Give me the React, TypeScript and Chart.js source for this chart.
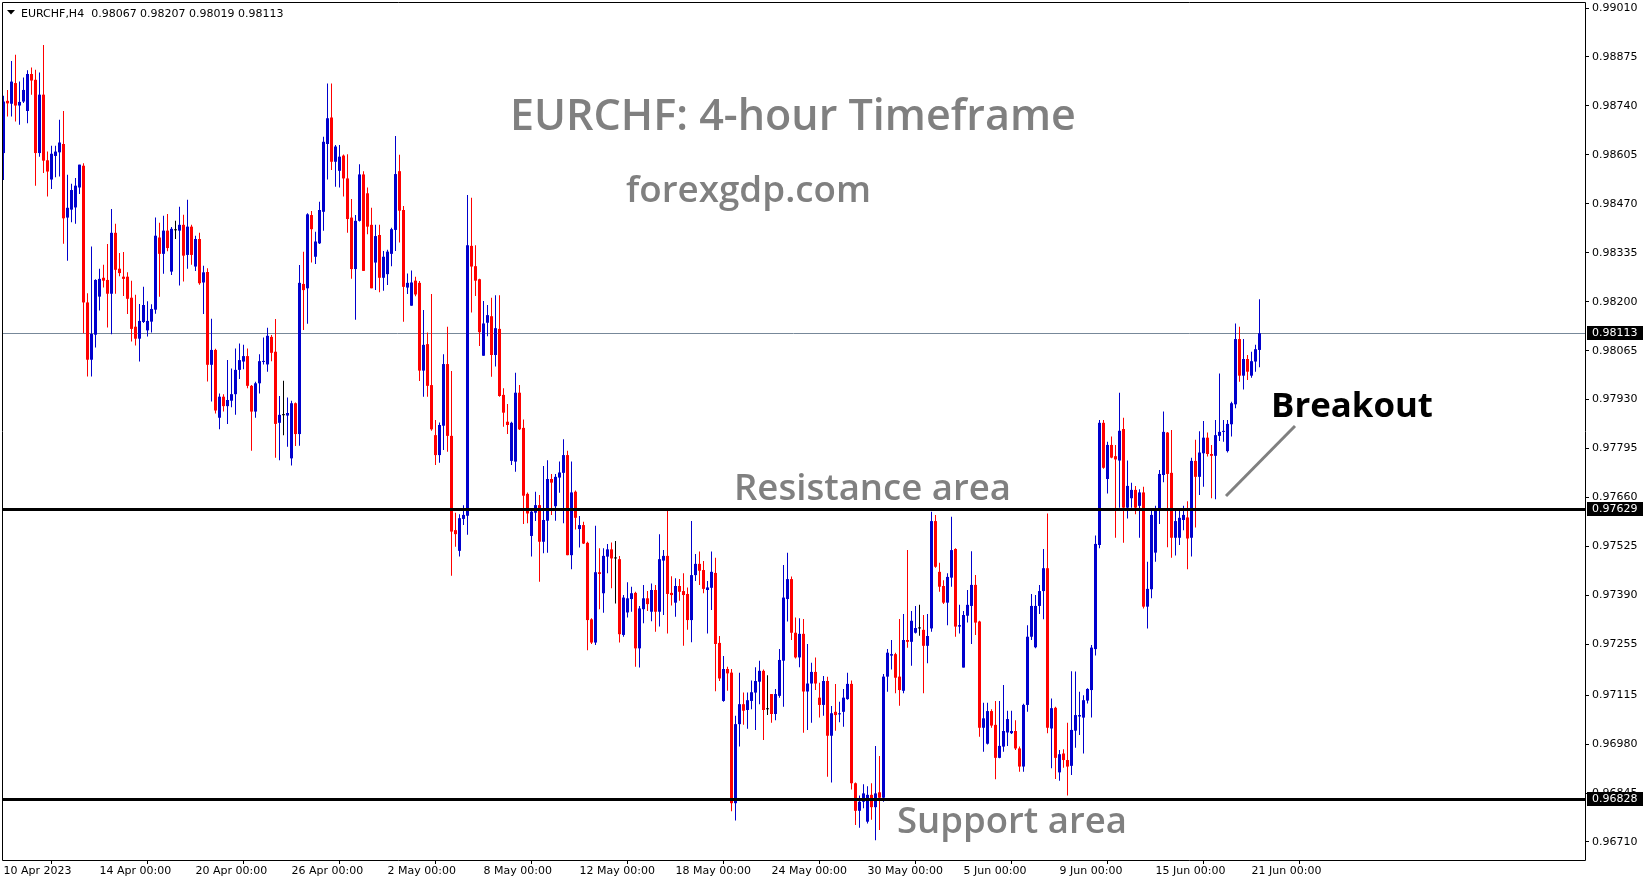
import React, { useEffect, useRef } from 'react';
import { Chart, registerables } from 'chart.js';

Chart.register(...registerables);

// ---- data (prices in 1e-5 units), one H4 bar per index, 10 Apr 2023 00:00 .. 21 Jun 2023 08:00
const opens = [
  98610,98754,98746,98803,98741,98752,98726,98828,98812,98610,
  98771,98590,98537,98602,98612,98635,98432,98454,98460,98515,
  98575,98198,98040,98109,98214,98266,98260,98222,98390,98291,
  98269,98269,98211,98131,98098,98144,98121,98145,98178,98377,
  98332,98396,98283,98397,98396,98412,98329,98407,98297,98373,
  98253,98282,98026,98067,97880,97938,97912,97927,97945,98012,
  98035,98050,97968,97897,97975,98034,98027,98103,98062,97866,
  97887,97886,97768,97920,97835,98249,98237,98439,98324,98361,
  98448,98635,98708,98586,98561,98603,98540,98432,98290,98423,
  98551,98499,98412,98308,98384,98266,98276,98332,98398,98560,
  98453,98239,98189,98258,98252,98010,98083,97970,97832,97777,
  97858,98028,97830,97570,97513,97601,97610,98354,98298,98262,
  98051,98142,98160,98053,98125,97943,97869,97761,97759,97949,
  97852,97670,97554,97618,97639,97538,97596,97711,97636,97715,
  97728,97777,97501,97676,97573,97584,97535,97324,97260,97454,
  97396,97497,97517,97492,97490,97281,97343,97380,97397,97244,
  97352,97382,97345,97405,97345,97486,97499,97397,97370,97416,
  97402,97394,97322,97446,97477,97460,97405,97411,97452,97259,
  97099,97187,97177,96817,97035,97090,97074,97099,97122,97152,
  97182,97076,97118,97063,97113,97210,97380,97435,97287,97219,
  97284,97125,97147,97179,97108,97088,97154,97003,97069,97062,
  97069,97104,97146,96872,96796,96821,96766,96840,96806,96847,
  96832,97166,97224,97228,97166,97127,97267,97262,97287,97299,
  97295,97251,97299,97595,97455,97416,97370,97439,97518,97304,
  97191,97334,97361,97419,97318,97025,96981,97071,97033,96942,
  96973,97012,97010,97016,96968,96918,97088,97276,97247,97361,
  97402,97465,97023,97080,96902,96954,96936,96920,97017,97056,
  97053,97100,97129,97242,97529,97866,97711,97805,97774,97762,
  97849,97632,97658,97681,97637,97674,97359,97407,97508,97624,
  97722,97839,97728,97549,97549,97598,97605,97549,97761,97717,
  97782,97825,97780,97775,97830,97841,97788,97862,97917,98097,
  97996,98042,97996,98035,98067,
];

const highs = [
  98768,98784,98864,98881,98807,98818,98838,98846,98840,98832,
  98908,98614,98630,98630,98702,98726,98550,98525,98541,98578,
  98582,98223,98352,98262,98291,98302,98359,98456,98415,98334,
  98337,98281,98258,98219,98194,98241,98201,98193,98432,98418,
  98437,98442,98406,98423,98462,98440,98481,98412,98382,98390,
  98299,98292,98153,98070,97947,97945,98039,98016,98071,98085,
  98081,98071,97970,97979,98055,98101,98128,98108,98152,97940,
  97982,97936,97927,97922,98301,98338,98444,98450,98393,98476,
  98655,98802,98802,98632,98632,98606,98607,98483,98439,98579,
  98560,98515,98459,98412,98412,98340,98343,98404,98657,98605,
  98464,98278,98286,98269,98257,98177,98115,98221,97874,97867,
  98055,98131,98009,97618,97614,97639,98494,98487,98356,98263,
  98202,98191,98211,98218,98218,97961,97918,97869,98004,97970,
  97875,97674,97626,97676,97667,97747,97763,97725,97725,97759,
  97821,97789,97759,97679,97609,97593,97538,97327,97582,97520,
  97520,97532,97536,97540,97499,97391,97426,97414,97400,97361,
  97419,97402,97423,97419,97559,97515,97623,97443,97437,97435,
  97451,97412,97595,97504,97511,97485,97430,97511,97494,97278,
  97223,97193,97187,97058,97177,97122,97122,97155,97192,97210,
  97186,97170,97118,97132,97242,97474,97508,97442,97329,97327,
  97325,97256,97204,97219,97149,97168,97166,97085,97146,97097,
  97132,97177,97155,96874,96838,96869,96864,96872,96975,96947,
  97173,97242,97267,97232,97325,97339,97515,97347,97361,97364,
  97336,97339,97621,97612,97480,97432,97451,97607,97520,97364,
  97347,97405,97512,97446,97320,97094,97094,97076,97099,97099,
  97143,97072,97072,97046,96973,97091,97308,97394,97391,97419,
  97518,97616,97106,97083,96964,96966,97039,97181,97180,97124,
  97115,97134,97253,97555,97874,97874,97814,97828,97805,97949,
  97880,97762,97701,97692,97683,97690,97483,97625,97637,97736,
  97897,97841,97846,97628,97623,97637,97650,97770,97819,97843,
  97871,97839,97805,97874,98002,97874,97874,97924,98140,98131,
  98097,98053,98062,98081,98207,
];

const lows = [
  98536,98711,98711,98697,98688,98748,98692,98771,98520,98600,
  98555,98490,98511,98543,98545,98360,98313,98419,98415,98497,
  98113,97994,97994,98074,98176,98239,98129,98110,98222,98270,
  98216,98166,98090,98079,98035,98141,98104,98115,98167,98214,
  98277,98339,98274,98373,98245,98256,98291,98302,98285,98247,
  98166,97980,97925,97892,97848,97897,97863,97909,97888,97987,
  98014,97961,97789,97880,97947,98027,98007,98036,97770,97763,
  97832,97800,97748,97802,97803,98122,98139,98308,98304,98359,
  98396,98537,98563,98517,98515,98490,98390,98263,98150,98421,
  98285,98386,98237,98232,98226,98230,98246,98298,98340,98363,
  98145,98221,98189,98215,97981,97938,97938,97844,97750,97756,
  97791,97786,97444,97524,97497,97584,97557,98170,98216,98078,
  98051,98105,97993,98021,97938,97855,97835,97750,97731,97846,
  97587,97589,97497,97595,97428,97506,97508,97612,97596,97673,
  97589,97501,97462,97572,97522,97532,97239,97256,97253,97352,
  97342,97451,97410,97368,97260,97276,97329,97345,97193,97191,
  97313,97347,97319,97290,97304,97336,97285,97362,97331,97375,
  97251,97295,97261,97430,97419,97396,97285,97350,97126,97154,
  97097,97127,96795,96769,96973,97033,97022,97076,97019,97090,
  96991,97060,97039,97046,97108,97083,97318,97267,97216,97192,
  97011,97019,97039,97129,97053,97058,96890,96874,97017,97040,
  97028,97102,96855,96757,96749,96803,96761,96771,96715,96743,
  96821,97124,97186,97120,97086,97120,97246,97196,97285,97279,
  97120,97203,97290,97466,97400,97366,97308,97414,97276,97285,
  97191,97315,97256,97281,97000,96959,96979,97025,96883,96941,
  96959,96975,97008,96964,96904,96904,97069,97267,97244,97339,
  97324,97010,96913,96884,96879,96915,96838,96895,96970,97005,
  96954,97092,97053,97224,97520,97739,97671,97768,97549,97632,
  97535,97602,97632,97614,97549,97354,97299,97382,97483,97587,
  97702,97523,97494,97500,97529,97570,97462,97497,97577,97667,
  97690,97773,97658,97655,97816,97814,97784,97828,97906,97979,
  97958,97984,97990,98007,98019,
];

const closes = [
  98752,98747,98807,98741,98751,98784,98828,98810,98610,98771,
  98589,98559,98608,98614,98639,98430,98459,98508,98520,98578,
  98198,98040,98111,98260,98263,98258,98222,98390,98288,98279,
  98263,98208,98125,98098,98147,98191,98147,98180,98382,98332,
  98396,98348,98401,98397,98412,98327,98407,98329,98373,98251,
  98281,98026,98067,97900,97938,97912,97929,97945,98012,98039,
  98050,97968,97897,97975,98036,98036,98106,98059,97863,97888,
  97887,97893,97920,97835,98252,98232,98441,98400,98366,98453,
  98641,98706,98586,98628,98600,98540,98428,98290,98423,98551,
  98285,98407,98237,98381,98266,98324,98338,98400,98552,98451,
  98241,98252,98253,98220,98010,98081,97968,97848,97777,97860,
  98028,97830,97566,97559,97603,97612,98356,98297,98258,98116,
  98140,98163,98053,98127,97940,97894,97860,97866,97949,97848,
  97665,97616,97621,97639,97538,97598,97711,97701,97717,97729,
  97777,97501,97674,97604,97584,97533,97322,97260,97454,97449,
  97499,97517,97492,97492,97283,97384,97382,97396,97244,97354,
  97382,97366,97405,97345,97490,97499,97394,97391,97416,97400,
  97391,97322,97446,97477,97458,97408,97412,97455,97256,97161,
  97187,97175,96817,97035,97090,97072,97101,97123,97154,97182,
  97074,97076,97063,97118,97212,97384,97435,97287,97219,97284,
  97125,97147,97179,97147,97088,97154,97003,97065,97060,97065,
  97108,97146,96872,96796,96821,96844,96840,96806,96844,96832,
  97166,97232,97228,97163,97129,97267,97262,97320,97300,97299,
  97251,97278,97595,97469,97414,97370,97441,97515,97304,97308,
  97336,97364,97419,97315,97025,97051,97071,97031,96942,96975,
  97016,97049,97016,96968,96918,97088,97276,97361,97361,97402,
  97465,97025,97079,96942,96952,96936,96918,97019,97060,97060,
  97101,97132,97246,97532,97866,97742,97805,97770,97765,97844,
  97632,97692,97681,97632,97674,97359,97408,97612,97624,97725,
  97841,97725,97549,97595,97604,97612,97547,97761,97717,97784,
  97825,97780,97775,97832,97841,97843,97863,97920,98097,97996,
  98042,98007,98036,98069,98113,
];

const xTickIndex = [0, 24, 48, 72, 96, 120, 144, 168, 192, 216, 240, 264, 288, 312];
const xTickLabels = [
  '10 Apr 2023', '14 Apr 00:00', '20 Apr 00:00', '26 Apr 00:00', '2 May 00:00',
  '8 May 00:00', '12 May 00:00', '18 May 00:00', '24 May 00:00', '30 May 00:00',
  '5 Jun 00:00', '9 Jun 00:00', '15 Jun 00:00', '21 Jun 00:00',
];
const yTickValues = [
  0.9901, 0.98875, 0.9874, 0.98605, 0.9847, 0.98335, 0.982, 0.98065, 0.9793,
  0.97795, 0.9766, 0.97525, 0.9739, 0.97255, 0.97115, 0.9698, 0.96845, 0.9671,
];

const headerText = 'EURCHF,H4  0.98067 0.98207 0.98019 0.98113';
const titleText = 'EURCHF: 4-hour Timeframe';
const siteText = 'forexgdp.com';
const resistanceText = 'Resistance area';
const supportText = 'Support area';
const breakoutText = 'Breakout';

const lastPrice = 0.98113;
const resistanceLevel = 0.97629;
const supportLevel = 0.96828;

const SCALE = 100000;
const BULL = '#0000cd';
const BEAR = '#ff0000';
const DOJI = '#000000';
const AXIS_FONT = '"DejaVu Sans", sans-serif';

function fitText(ctx: CanvasRenderingContext2D, text: string, x1: number, x2: number, baseline: number, weight: string, family: string, color: string) {
  ctx.save();
  ctx.font = `${weight} 100px ${family}`;
  const w = ctx.measureText(text).width;
  const size = (100 * (x2 - x1)) / w;
  ctx.font = `${weight} ${size}px ${family}`;
  ctx.fillStyle = color;
  ctx.textAlign = 'left';
  ctx.textBaseline = 'alphabetic';
  ctx.fillText(text, x1, baseline);
  ctx.restore();
}

const overlayPlugin = {
  id: 'mt4overlay',
  beforeDatasetsDraw(chart: any) {
    const { ctx, chartArea: a, scales } = chart;
    const py = Math.round(scales.y.getPixelForValue(lastPrice)) + 0.5;
    ctx.save();
    ctx.strokeStyle = '#778899';
    ctx.lineWidth = 1;
    ctx.beginPath();
    ctx.moveTo(a.left, py);
    ctx.lineTo(a.right, py);
    ctx.stroke();
    ctx.restore();
  },
  afterDatasetsDraw(chart: any) {
    const { ctx, chartArea: a, scales } = chart;
    ctx.save();
    ctx.fillStyle = '#000';
    [resistanceLevel, supportLevel].forEach((v) => {
      const py = Math.round(scales.y.getPixelForValue(v));
      ctx.fillRect(a.left, py - 1, a.right - a.left, 3);
    });
    // arrow
    ctx.strokeStyle = '#808080';
    ctx.lineWidth = 3;
    ctx.beginPath();
    ctx.moveTo(1226, 496);
    ctx.lineTo(1295, 426);
    ctx.stroke();
    ctx.restore();
    const fam = '"Open Sans", sans-serif';
    fitText(ctx, titleText, 510, 1076, 130, '600', fam, '#808080');
    fitText(ctx, siteText, 626, 871, 202, '600', fam, '#808080');
    fitText(ctx, resistanceText, 734, 1011, 500, '600', fam, '#808080');
    fitText(ctx, supportText, 897, 1127, 833, '600', fam, '#808080');
    fitText(ctx, breakoutText, 1271, 1433, 417, '700', fam, '#000000');
  },
  afterDraw(chart: any) {
    const { ctx, chartArea: a, scales } = chart;
    ctx.save();
    // frame
    ctx.strokeStyle = '#000';
    ctx.lineWidth = 1;
    ctx.beginPath();
    ctx.moveTo(a.left + 0.5, a.top - 0.5);
    ctx.lineTo(a.right + 0.5, a.top - 0.5);
    ctx.lineTo(a.right + 0.5, a.bottom + 0.5);
    ctx.lineTo(a.left + 0.5, a.bottom + 0.5);
    ctx.closePath();
    ctx.stroke();
    // price boxes
    ctx.font = `11px ${AXIS_FONT}`;
    ctx.textBaseline = 'middle';
    ctx.textAlign = 'left';
    [lastPrice, resistanceLevel, supportLevel].forEach((v) => {
      const py = Math.round(scales.y.getPixelForValue(v));
      ctx.fillStyle = '#000';
      ctx.fillRect(a.right + 2, py - 7, 56, 14);
      ctx.fillStyle = '#fff';
      ctx.fillText(v.toFixed(5), a.right + 7, py + 0.5);
    });
    // header
    ctx.fillStyle = '#000';
    ctx.beginPath();
    ctx.moveTo(7, 10);
    ctx.lineTo(15, 10);
    ctx.lineTo(11, 14.5);
    ctx.closePath();
    ctx.fill();
    ctx.textBaseline = 'alphabetic';
    ctx.fillText(headerText, 21, 16.5);
    ctx.restore();
  },
};

export default function App() {
  const ref = useRef<HTMLCanvasElement | null>(null);
  useEffect(() => {
    document.body.style.margin = '0';
    const canvas = ref.current;
    if (!canvas) return;
    const colors = opens.map((o, i) => (closes[i] > o ? BULL : closes[i] < o ? BEAR : DOJI));
    const wickData = opens.map((_, i) => ({ x: i, y: [lows[i] / SCALE, highs[i] / SCALE] }));
    const bodyData = opens.map((o, i) => ({ x: i, y: [o / SCALE, closes[i] / SCALE] }));
    const chart = new Chart(canvas, {
      type: 'bar',
      data: {
        datasets: [
          { label: 'wick', data: wickData as any, backgroundColor: colors, barThickness: 1, grouped: false, borderWidth: 0, inflateAmount: 0, order: 2 } as any,
          { label: 'body', data: bodyData as any, backgroundColor: colors, barThickness: 3, grouped: false, borderWidth: 0, inflateAmount: 0, minBarLength: 1, order: 1 } as any,
        ],
      },
      options: {
        animation: false,
        responsive: false,
        maintainAspectRatio: false,
        events: [],
        layout: { padding: { left: 2, top: 3, right: 0, bottom: 0 } },
        plugins: { legend: { display: false }, tooltip: { enabled: false } },
        scales: {
          x: {
            type: 'linear',
            min: -0.375,
            max: 395.375,
            offset: false,
            grid: { display: true, drawOnChartArea: false, drawTicks: true, tickLength: 4, color: '#000', tickColor: '#000' },
            border: { display: false },
            ticks: {
              align: 'start',
              autoSkip: false,
              maxRotation: 0,
              minRotation: 0,
              padding: 1,
              color: '#000',
              font: { family: AXIS_FONT, size: 11 },
              callback: (v: any) => {
                const k = xTickIndex.indexOf(Number(v));
                return k >= 0 ? xTickLabels[k] : '';
              },
            },
            afterBuildTicks: (s: any) => {
              s.ticks = xTickIndex.map((v) => ({ value: v }));
            },
            afterFit: (s: any) => {
              s.height = 24;
              s.paddingLeft = 0;
              s.paddingRight = 0;
            },
          } as any,
          y: {
            type: 'linear',
            position: 'right',
            min: 0.966603,
            max: 0.990238,
            grid: { display: true, drawOnChartArea: false, drawTicks: true, tickLength: 4, color: '#000', tickColor: '#000' },
            border: { display: false },
            ticks: {
              padding: 3,
              color: '#000',
              font: { family: AXIS_FONT, size: 11 },
              callback: (v: any) => Number(v).toFixed(5),
            },
            afterBuildTicks: (s: any) => {
              s.ticks = yTickValues.map((v) => ({ value: v }));
            },
            afterFit: (s: any) => {
              s.width = 64;
              s.paddingTop = 0;
              s.paddingBottom = 0;
            },
          } as any,
        },
      },
      plugins: [overlayPlugin],
    });
    return () => chart.destroy();
  }, []);
  return (
    <div style={{ width: 1649, height: 884, background: '#fff' }}>
      <canvas ref={ref} width={1649} height={884} style={{ display: 'block' }} />
    </div>
  );
}
